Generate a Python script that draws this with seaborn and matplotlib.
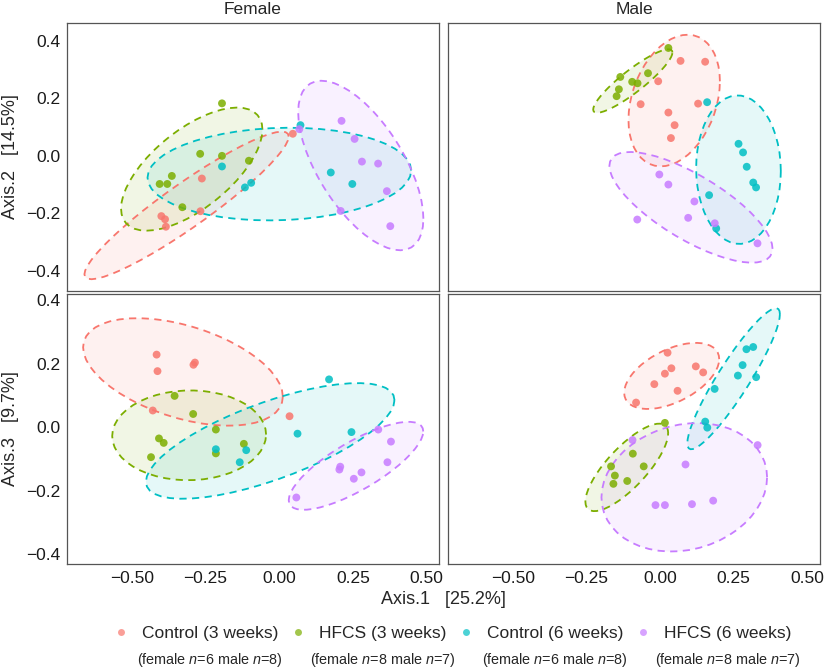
import numpy as np
import pandas as pd
import seaborn as sns
import matplotlib.pyplot as plt
from matplotlib.lines import Line2D

# groups, legend text and colours
groups = ["Control (3 weeks)", "HFCS (3 weeks)", "Control (6 weeks)", "HFCS (6 weeks)"]
group_notes = ["(female $n$=6 male $n$=8)", "(female $n$=8 male $n$=7)",
               "(female $n$=6 male $n$=8)", "(female $n$=8 male $n$=7)"]
palette = ["#F8766D", "#7CAE00", "#00BFC4", "#C77CFF"]

# female samples (PCoA coordinates)
female_group = [groups[0]] * 6 + [groups[1]] * 8 + [groups[2]] * 6 + [groups[3]] * 8
female_ax1 = [0.035, -0.286, -0.291, -0.429, -0.416, -0.413,
              -0.215, -0.292, -0.215, -0.120, -0.392, -0.435, -0.408, -0.355,
              0.062, -0.215, -0.112, -0.134, 0.169, 0.245,
              0.058, 0.207, 0.253, 0.279, 0.336, 0.367, 0.204, 0.379]
female_ax2 = [0.077, -0.079, -0.193, -0.210, -0.221, -0.247,
              0.183, 0.007, 0.000, -0.017, -0.070, -0.098, -0.098, -0.179,
              0.107, -0.037, -0.094, -0.110, -0.058, -0.098,
              0.093, 0.122, 0.059, -0.020, -0.027, -0.123, -0.192, -0.245]
female_ax3 = [0.034, 0.203, 0.196, 0.052, 0.228, 0.176,
              -0.008, 0.041, -0.083, -0.053, -0.050, -0.095, -0.036, 0.098,
              -0.021, -0.070, -0.073, -0.111, 0.150, -0.016,
              -0.222, -0.125, -0.163, -0.143, -0.008, -0.111, -0.134, -0.046]

# male samples
male_group = [groups[0]] * 8 + [groups[1]] * 7 + [groups[2]] * 8 + [groups[3]] * 7
male_ax1 = [0.059, 0.146, -0.020, -0.082, 0.016, 0.121, 0.038, 0.025,
            0.016, -0.056, -0.154, -0.112, -0.093, -0.159, -0.167,
            0.153, 0.264, 0.280, 0.293, 0.316, 0.326, 0.160, 0.185,
            -0.016, 0.016, 0.108, -0.094, 0.086, 0.180, 0.331]
male_ax2 = [0.331, 0.328, 0.260, 0.180, 0.151, 0.182, 0.107, 0.062,
            0.376, 0.288, 0.275, 0.258, 0.253, 0.232, 0.208,
            0.187, 0.042, 0.012, -0.038, -0.093, -0.110, -0.137, -0.253,
            -0.065, -0.100, -0.159, -0.222, -0.216, -0.235, -0.305]
male_ax3 = [0.114, 0.172, 0.135, 0.077, 0.168, 0.191, 0.185, 0.234,
            0.013, -0.124, -0.153, -0.170, -0.084, -0.179, -0.124,
            0.017, 0.162, 0.195, 0.245, 0.252, 0.157, -0.002, 0.120,
            -0.246, -0.246, -0.243, -0.041, -0.118, -0.232, -0.057]

# ticks
x_ticks = [-0.5, -0.25, 0.0, 0.25, 0.5]
x_labels = ["\u22120.50", "\u22120.25", "0.00", "0.25", "0.50"]
x_ticks_top = [-0.75, -0.5, -0.25, 0.0, 0.25, 0.5]
y_ticks = [-0.4, -0.2, 0.0, 0.2, 0.4]
y_labels = ["\u22120.4", "\u22120.2", "0.0", "0.2", "0.4"]

ELLIPSE_LEVEL = 0.9


def cov_trob(pts, nu=5, maxit=25, tol=0.01):
    # robust t covariance, like MASS::cov.trob used by stat_ellipse
    n, p = pts.shape
    wt = np.ones(n)
    loc = pts.mean(axis=0)
    w = np.sqrt(wt)
    for _ in range(maxit):
        w0 = w
        X = pts - loc
        _, d, vt = np.linalg.svd(np.sqrt(w / w.sum())[:, None] * X, full_matrices=False)
        wX = X @ vt.T @ np.diag(1 / d)
        Q = (wX ** 2).sum(axis=1)
        w = wt * (nu + p) / (nu + Q)
        loc = (w[:, None] * pts).sum(axis=0) / w.sum()
        if np.all(np.abs(w - w0) < tol):
            break
    sw = np.sqrt(w)[:, None] * X
    return loc, sw.T @ sw / wt.sum()


def ellipse_path(x, y, level=ELLIPSE_LEVEL, segments=51):
    pts = np.column_stack([x, y])
    center, shape = cov_trob(pts)
    dfd = len(pts) - 1
    # F(2, dfd) quantile has a closed form
    qf = dfd / 2 * ((1 - level) ** (-2 / dfd) - 1)
    radius = np.sqrt(2 * qf)
    ang = np.linspace(0, 2 * np.pi, segments)
    circle = np.column_stack([np.cos(ang), np.sin(ang)])
    return center + radius * circle @ np.linalg.cholesky(shape).T


def draw_panel(ax, data, ycol):
    for grp, col in zip(groups, palette):
        sub = data[data["group"] == grp]
        ell = ellipse_path(sub["Axis.1"].values, sub[ycol].values)
        ax.fill(ell[:, 0], ell[:, 1], color=col, alpha=0.1, lw=0)
        ax.plot(ell[:, 0], ell[:, 1], color=col, lw=1.3, ls=(0, (4, 3)))
    sns.scatterplot(data=data, x="Axis.1", y=ycol, hue="group", hue_order=groups,
                    palette=palette, s=32, alpha=0.85, linewidth=0, legend=False,
                    ax=ax, zorder=3)
    ax.set_xlabel("")
    ax.set_ylabel("")
    for sp in ax.spines.values():
        sp.set_color("#555555")
        sp.set_linewidth(0.9)
    ax.tick_params(length=3, width=0.8, color="#333333", labelsize=12.5,
                   labelcolor="#1a1a1a", pad=2)


female = pd.DataFrame({"group": female_group, "Axis.1": female_ax1,
                       "Axis.2": female_ax2, "Axis.3": female_ax3})
male = pd.DataFrame({"group": male_group, "Axis.1": male_ax1,
                     "Axis.2": male_ax2, "Axis.3": male_ax3})

sns.set_style("white")
plt.rcParams["font.family"] = ["Liberation Sans", "DejaVu Sans"]
plt.rcParams["mathtext.fontset"] = "custom"
plt.rcParams["mathtext.rm"] = "Liberation Sans"
plt.rcParams["mathtext.it"] = "Liberation Sans:italic"

W, H = 824, 668
fig = plt.figure(figsize=(W / 100, H / 100), dpi=100)


def box(x0, y0, x1, y1):
    return [x0 / W, 1 - y1 / H, (x1 - x0) / W, (y1 - y0) / H]


axes = {
    ("F", 2): fig.add_axes(box(67, 23.3, 439.3, 290.7)),
    ("M", 2): fig.add_axes(box(448.3, 23.3, 820, 290.7)),
    ("F", 3): fig.add_axes(box(67, 294.3, 439.3, 564)),
    ("M", 3): fig.add_axes(box(448.3, 294.3, 820, 564)),
}

for (sex, k), ax in axes.items():
    data = female if sex == "F" else male
    draw_panel(ax, data, f"Axis.{k}")
    if k == 2:
        ax.set_xlim(-0.762, 0.552)
        ax.set_ylim(-0.470, 0.462)
        ax.set_xticks(x_ticks_top)
        ax.set_xticklabels([])
    else:
        ax.set_xlim(-0.720, 0.543)
        ax.set_ylim(-0.4315, 0.418)
        ax.set_xticks(x_ticks)
        ax.set_xticklabels(x_labels)
    if sex == "F":
        ax.set_yticks(y_ticks)
        ax.set_yticklabels(y_labels)
    else:
        ax.set_yticks([])

fig.text(253 / W, 1 - 10 / H, "Female", ha="center", va="center", fontsize=12.5)
fig.text(634 / W, 1 - 10 / H, "Male", ha="center", va="center", fontsize=12.5)
fig.text(11 / W, 1 - 157 / H, "Axis.2   [14.5%]", rotation=90, ha="center",
         va="center", fontsize=13)
fig.text(11 / W, 1 - 429 / H, "Axis.3   [9.7%]", rotation=90, ha="center",
         va="center", fontsize=13)
fig.text(443.5 / W, 1 - 600 / H, "Axis.1   [25.2%]", ha="center", va="center",
         fontsize=13)

handles = [Line2D([], [], ls="", marker="o", ms=5, color=c, alpha=0.7, mec="none")
           for c in palette]
leg = fig.legend(handles, groups, loc="center", bbox_to_anchor=(452 / W, 1 - 633 / H),
                 ncol=4, frameon=False, fontsize=12.5, handlelength=1.0,
                 handletextpad=0.7, columnspacing=0.65, borderpad=0, borderaxespad=0)
fig.canvas.draw()
for txt, note in zip(leg.get_texts(), group_notes):
    bb = txt.get_window_extent()
    fig.text((bb.x0 + bb.x1) / 2 / fig.bbox.width, 1 - 660 / H, note,
             ha="center", va="center", fontsize=10.4)

fig.savefig("out.png", dpi=100)
